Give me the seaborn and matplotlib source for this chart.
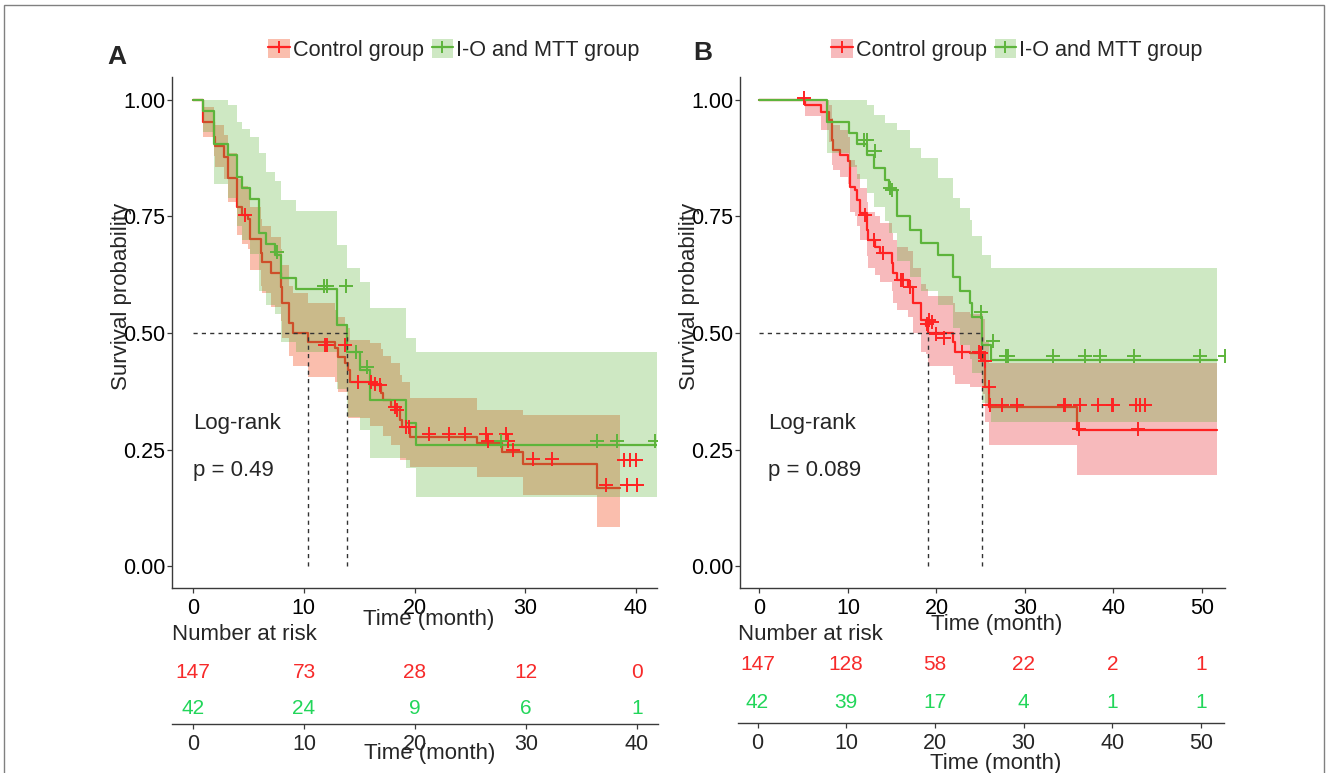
import numpy as np
import pandas as pd
import seaborn as sns
import matplotlib
matplotlib.use("Agg")
import matplotlib.pyplot as plt
from matplotlib.patches import Patch, Rectangle
from matplotlib.lines import Line2D

# ----------------------------------------
# Data
# ----------------------------------------
groups = ["Control group", "I-O and MTT group"]

# Panel A - control group
a_ctrl_t = [0, 0.93, 1.9, 2.0, 2.8, 3.2, 4.0, 4.4, 5.0, 5.15, 6.1, 6.2, 7.0, 7.9, 8.0, 8.7, 9.0,
            10.4, 12.8, 13.1, 13.7, 14.0, 14.2, 16.0, 17.0, 17.2, 17.9, 18.7, 18.85, 19.6, 25.6,
            27.9, 29.8, 36.5, 38.6]
a_ctrl_s = [1.0, 0.953, 0.921, 0.900, 0.878, 0.832, 0.771, 0.753, 0.744, 0.701, 0.671, 0.653, 0.628,
            0.599, 0.564, 0.521, 0.501, 0.481, 0.467, 0.449, 0.435, 0.421, 0.395, 0.388, 0.371, 0.356,
            0.341, 0.313, 0.299, 0.277, 0.263, 0.245, 0.220, 0.167, 0.167]
a_ctrl_lo = [1.0, 0.92, 0.88, 0.855, 0.83, 0.78, 0.71, 0.69, 0.68, 0.635, 0.60, 0.585, 0.555, 0.525,
             0.49, 0.45, 0.43, 0.406, 0.395, 0.374, 0.374, 0.317, 0.317, 0.30, 0.30, 0.28, 0.26,
             0.228, 0.228, 0.213, 0.192, 0.192, 0.152, 0.084, 0.084]
a_ctrl_hi = [1.0, 0.985, 0.96, 0.945, 0.925, 0.885, 0.83, 0.815, 0.81, 0.77, 0.745, 0.73, 0.705, 0.68,
             0.645, 0.60, 0.585, 0.565, 0.55, 0.535, 0.52, 0.51, 0.485, 0.478, 0.465, 0.45, 0.435,
             0.41, 0.395, 0.36, 0.335, 0.335, 0.324, 0.324, 0.324]
a_ctrl_cens_t = [4.7, 11.9, 12.1, 13.7, 14.9, 16.1, 16.4, 16.9, 18.2, 18.4, 19.2, 19.5, 21.3, 23.1,
                 24.6, 26.5, 26.6, 28.3, 28.4, 28.9, 30.7, 32.4, 37.3, 39.2, 40.1, 38.9, 39.5, 40.0]
a_ctrl_cens_s = [0.753, 0.474, 0.474, 0.474, 0.395, 0.395, 0.391, 0.388, 0.341, 0.335, 0.299, 0.299,
                 0.283, 0.283, 0.283, 0.284, 0.268, 0.284, 0.268, 0.249, 0.229, 0.229, 0.174, 0.174,
                 0.174, 0.228, 0.228, 0.228]

# Panel A - I-O and MTT group
a_mtt_t = [0, 0.93, 1.93, 3.2, 4.0, 4.4, 5.1, 6.0, 6.6, 7.4, 7.95, 9.3, 13.0, 13.9, 15.1, 16.0,
           19.2, 20.1, 41.9]
a_mtt_s = [1.0, 0.976, 0.905, 0.882, 0.834, 0.810, 0.787, 0.715, 0.691, 0.667, 0.617, 0.594, 0.518,
           0.459, 0.421, 0.356, 0.307, 0.260, 0.260]
a_mtt_lo = [1.0, 0.93, 0.82, 0.79, 0.73, 0.70, 0.67, 0.59, 0.56, 0.54, 0.48, 0.46, 0.38, 0.32, 0.292,
            0.231, 0.21, 0.149, 0.149]
a_mtt_hi = [1.0, 1.0, 1.0, 0.989, 0.953, 0.937, 0.921, 0.886, 0.846, 0.825, 0.785, 0.762, 0.689,
            0.639, 0.610, 0.553, 0.489, 0.459, 0.459]
a_mtt_cens_t = [7.6, 11.8, 12.1, 13.8, 14.7, 15.7, 27.8, 36.5, 38.3, 41.7]
a_mtt_cens_s = [0.674, 0.600, 0.600, 0.600, 0.459, 0.428, 0.268, 0.268, 0.268, 0.268]

# Panel B - control group
b_ctrl_t = [0, 5.2, 6.9, 7.8, 8.2, 8.3, 9.1, 10.0, 10.2, 10.8, 11.0, 11.4, 12.1, 12.3, 13.1, 13.6,
            15.0, 15.1, 15.5, 16.8, 17.4, 18.2, 18.8, 19.0, 21.9, 22.1, 23.8, 25.2, 25.5, 25.9,
            35.9, 51.7]
b_ctrl_s = [1.0, 0.989, 0.975, 0.957, 0.914, 0.893, 0.882, 0.868, 0.814, 0.807, 0.785, 0.757, 0.721,
            0.700, 0.685, 0.671, 0.650, 0.628, 0.614, 0.599, 0.564, 0.528, 0.514, 0.499, 0.481,
            0.460, 0.456, 0.442, 0.385, 0.342, 0.292, 0.292]
b_ctrl_lo = [1.0, 0.965, 0.935, 0.91, 0.86, 0.85, 0.835, 0.82, 0.76, 0.75, 0.73, 0.70, 0.665, 0.64,
             0.625, 0.61, 0.59, 0.565, 0.55, 0.535, 0.50, 0.46, 0.455, 0.43, 0.41, 0.39, 0.385,
             0.37, 0.31, 0.26, 0.195, 0.195]
b_ctrl_hi = [1.0, 1.0, 1.0, 0.99, 0.96, 0.945, 0.935, 0.92, 0.87, 0.86, 0.84, 0.81, 0.78, 0.76,
             0.75, 0.735, 0.715, 0.70, 0.685, 0.675, 0.64, 0.605, 0.595, 0.58, 0.565, 0.545, 0.54,
             0.53, 0.48, 0.435, 0.435, 0.435]
b_ctrl_cens_t = [5.0, 11.9, 12.9, 14.0, 16.0, 16.2, 17.0, 18.9, 19.1, 19.5, 19.9, 20.8, 22.9, 24.8,
                 25.0, 25.5, 25.9, 26.1, 27.4, 29.1, 34.4, 34.5, 36.2, 38.3, 39.8, 40.0, 42.6, 43.0,
                 43.6, 36.1, 42.8]
b_ctrl_cens_s = [1.005, 0.753, 0.700, 0.671, 0.614, 0.614, 0.599, 0.520, 0.528, 0.524, 0.497, 0.490,
                 0.460, 0.460, 0.458, 0.440, 0.385, 0.345, 0.345, 0.345, 0.345, 0.345, 0.345, 0.345,
                 0.345, 0.345, 0.345, 0.345, 0.345, 0.295, 0.295]

# Panel B - I-O and MTT group
b_mtt_t = [0, 7.6, 10.1, 11.0, 12.1, 12.9, 14.2, 14.6, 15.5, 17.0, 18.2, 20.2, 21.9, 22.7, 23.8,
           24.0, 25.1, 26.2, 51.7]
b_mtt_s = [1.0, 0.953, 0.928, 0.906, 0.882, 0.853, 0.828, 0.807, 0.750, 0.721, 0.692, 0.667, 0.621,
           0.589, 0.564, 0.535, 0.474, 0.443, 0.443]
b_mtt_lo = [1.0, 0.885, 0.855, 0.83, 0.80, 0.77, 0.74, 0.715, 0.655, 0.62, 0.59, 0.56, 0.51, 0.475,
            0.445, 0.415, 0.35, 0.31, 0.31]
b_mtt_hi = [1.0, 1.0, 1.0, 1.0, 0.989, 0.968, 0.950, 0.950, 0.936, 0.896, 0.875, 0.832, 0.790,
            0.768, 0.742, 0.707, 0.667, 0.639, 0.639]
b_mtt_cens_t = [11.8, 12.1, 13.0, 14.8, 15.0, 25.0, 26.4, 27.8, 28.1, 33.2, 36.8, 38.5, 42.3, 49.8, 52.6]
b_mtt_cens_s = [0.913, 0.913, 0.890, 0.810, 0.807, 0.545, 0.483, 0.450, 0.450, 0.450, 0.450, 0.450,
                0.450, 0.450, 0.450]

# Number at risk tables
a_risk_times = [0, 10, 20, 30, 40]
a_risk_ctrl = [147, 73, 28, 12, 0]
a_risk_mtt = [42, 24, 9, 6, 1]
b_risk_times = [0, 10, 20, 30, 40, 50]
b_risk_ctrl = [147, 128, 58, 22, 2, 1]
b_risk_mtt = [42, 39, 17, 4, 1, 1]

p_values = ["p = 0.49", "p = 0.089"]

# ----------------------------------------
# Style
# ----------------------------------------
RED = "#FF2222"
GREEN = "#5DB43B"
RED_TXT = "#F72A2A"
GREEN_TXT = "#22D65A"
SPINE = "#3a3a3a"

sns.set_theme(style="white")
plt.rcParams["font.family"] = ["Liberation Sans", "DejaVu Sans"]
plt.rcParams["axes.linewidth"] = 1.0

W, H = 1328, 773
fig = plt.figure(figsize=(W / 100, H / 100), dpi=100)


def fx(px):
    return px / W


def fy(py):
    return 1 - py / H


def draw_curve(ax, t, s, lo, hi, ct, cs, line_col, fill_col, fill_alpha, z):
    ax.fill_between(t, lo, hi, step="post", color=fill_col, alpha=fill_alpha, lw=0, zorder=z)
    sns.lineplot(x=t, y=s, drawstyle="steps-post", color=line_col, lw=1.6, ax=ax,
                 estimator=None, sort=False, zorder=z + 1)
    return ct, cs


def median_time(t, s):
    s = np.array(s)
    return t[int(np.argmax(s <= 0.5))]


def km_panel(left_px, xlim, xticks, curves, pval, letter, letter_xy, leg_x, label_y, text_x):
    ax = fig.add_axes([fx(left_px), fy(588), fx(485), fy(77) - fy(588)])
    cens = []
    for i, c in enumerate(curves):
        cens.append(draw_curve(ax, *c, z=1 + 2 * i))
    for (ct, cs), col in zip(cens, [RED, GREEN]):
        sns.scatterplot(x=ct, y=cs, marker="+", s=105, linewidth=1.4, color=col, ax=ax,
                        zorder=8, legend=False)
    # median lines
    meds = [median_time(c[0], c[1]) for c in curves]
    ax.plot([0, max(meds)], [0.5, 0.5], ls=(0, (3, 3)), color="#333333", lw=1.0, zorder=7)
    for m in meds:
        ax.plot([m, m], [0, 0.5], ls=(0, (3, 3)), color="#333333", lw=1.0, zorder=7)

    ax.set_xlim(*xlim)
    ax.set_ylim(-0.047, 1.049)
    ax.set_xticks(xticks)
    ax.set_yticks([0, 0.25, 0.5, 0.75, 1.0])
    ax.set_yticklabels(["0.00", "0.25", "0.50", "0.75", "1.00"])
    for sp in ["top", "right"]:
        ax.spines[sp].set_visible(False)
    for sp in ["left", "bottom"]:
        ax.spines[sp].set_color(SPINE)
    ax.tick_params(axis="both", which="both", direction="out", length=3.5, width=0.9,
                   color=SPINE, labelsize=15.5, labelcolor="black", bottom=True, left=True)
    ax.tick_params(axis="x", pad=4)
    ax.tick_params(axis="y", pad=1.5)
    ax.set_ylabel("Survival probability", fontsize=16)
    ax.yaxis.set_label_coords(-0.082, 0.57)
    ax.set_xlabel("Time (month)", fontsize=16)
    ax.xaxis.set_label_coords(0.53, label_y)

    ax.text(text_x, 0.305, "Log-rank", fontsize=16, va="center", ha="left")
    ax.text(text_x, 0.206, pval, fontsize=16, va="center", ha="left")

    fig.text(fx(letter_xy[0]), fy(letter_xy[1]), letter, fontsize=19, fontweight="bold",
             ha="center", va="center")

    handles = []
    for col, fcol, fal in [(RED, curves[0][7], curves[0][8]), (GREEN, curves[1][7], curves[1][8])]:
        handles.append((Patch(facecolor=fcol, alpha=fal, edgecolor="none"),
                        Line2D([], [], color=col, lw=1.6, marker="+", markersize=9, mew=1.4)))
    fig.legend(handles, groups, loc="center left", bbox_to_anchor=(fx(leg_x), fy(50)),
               ncol=2, frameon=False, fontsize=15.6, handlelength=1.0, handletextpad=0.15,
               columnspacing=0.35, borderpad=0, borderaxespad=0, handleheight=1.0)
    return ax


def risk_table(left_px, line_py, red_py, green_py, xlim, times, n_ctrl, n_mtt, title_y):
    unit = green_py - red_py
    y_bot = 1 - (line_py - green_py) / unit
    top_py = 650
    y_top = 2 + (red_py - top_py) / unit
    tax = fig.add_axes([fx(left_px), fy(line_py), fx(486), fy(top_py) - fy(line_py)])
    tax.set_xlim(*xlim)
    tax.set_ylim(y_bot, y_top)
    for tt, n in zip(times, n_ctrl):
        tax.text(tt, 2, str(n), color=RED_TXT, fontsize=15, ha="center", va="center")
    for tt, n in zip(times, n_mtt):
        tax.text(tt, 1, str(n), color=GREEN_TXT, fontsize=15, ha="center", va="center")
    for sp in ["top", "right", "left"]:
        tax.spines[sp].set_visible(False)
    tax.spines["bottom"].set_color(SPINE)
    tax.set_xticks(times)
    tax.set_yticks([])
    tax.tick_params(axis="x", direction="out", length=3.5, width=0.9, color=SPINE,
                    labelsize=15.5, pad=4, bottom=True)
    tax.set_xlabel("Time (month)", fontsize=16)
    tax.xaxis.set_label_coords(0.53, title_y)
    fig.text(fx(left_px), fy(635), "Number at risk", fontsize=16, ha="left", va="center")
    return tax


# ----------------------------------------
# Panel A
# ----------------------------------------
curves_a = [
    (a_ctrl_t, a_ctrl_s, a_ctrl_lo, a_ctrl_hi, a_ctrl_cens_t, a_ctrl_cens_s, RED, "#F5704A", 0.45),
    (a_mtt_t, a_mtt_s, a_mtt_lo, a_mtt_hi, a_mtt_cens_t, a_mtt_cens_s, GREEN, GREEN, 0.3),
]
km_panel(172, (-1.9, 41.9), [0, 10, 20, 30, 40], curves_a, p_values[0], "A", (117, 57), 268,
         -0.041, 0.0)
risk_table(172, 724, 672, 708, (-1.9, 41.9), a_risk_times, a_risk_ctrl, a_risk_mtt, -0.26)

# ----------------------------------------
# Panel B
# ----------------------------------------
curves_b = [
    (b_ctrl_t, b_ctrl_s, b_ctrl_lo, b_ctrl_hi, b_ctrl_cens_t, b_ctrl_cens_s, RED, "#EF6F73", 0.48),
    (b_mtt_t, b_mtt_s, b_mtt_lo, b_mtt_hi, b_mtt_cens_t, b_mtt_cens_s, GREEN, GREEN, 0.3),
]
km_panel(740, (-2.2, 52.6), [0, 10, 20, 30, 40, 50], curves_b, p_values[1], "B", (703, 53), 831,
         -0.051, 1.0)
risk_table(738, 723, 665, 702, (-2.2, 52.6), b_risk_times, b_risk_ctrl, b_risk_mtt, -0.41)

# outer frame
fig.patches.append(Rectangle((fx(4), -0.01), fx(1320), fy(5) + 0.01, transform=fig.transFigure,
                             fill=False, edgecolor="#808080", lw=1.0))

fig.savefig("out.png", dpi=100)
